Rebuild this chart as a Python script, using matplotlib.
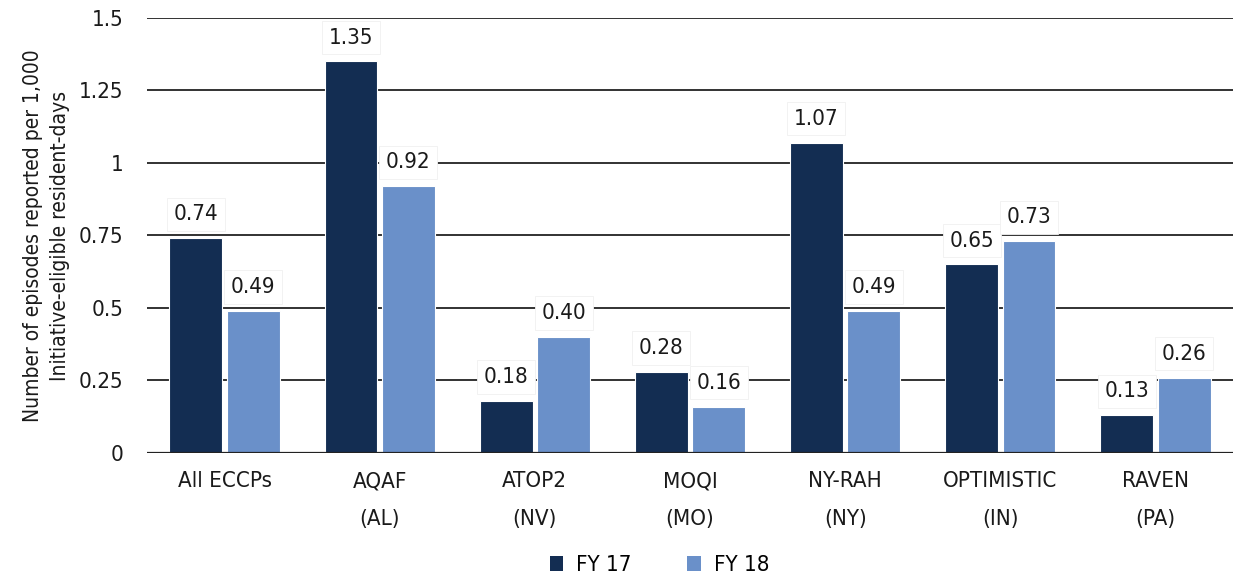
import matplotlib
matplotlib.use("Agg")
import matplotlib.pyplot as plt
import numpy as np
from matplotlib.patches import Patch

categories = ["All ECCPs", "AQAF\n(AL)", "ATOP2\n(NV)", "MOQI\n(MO)", "NY-RAH\n(NY)", "OPTIMISTIC\n(IN)", "RAVEN\n(PA)"]
fy17 = [0.74, 1.35, 0.18, 0.28, 1.07, 0.65, 0.13]
fy18 = [0.49, 0.92, 0.40, 0.16, 0.49, 0.73, 0.26]
series_names = ["FY 17", "FY 18"]
yticks = [0, 0.25, 0.5, 0.75, 1, 1.25, 1.5]
ytick_labels = ["0", "0.25", "0.5", "0.75", "1", "1.25", "1.5"]

plt.rcParams['font.family'] = ['DejaVu Sans']
plt.rcParams['font.stretch'] = 'condensed'

dark = "#132d52"
light = "#6a90c9"

fig = plt.figure(figsize=(12.33, 5.78), dpi=100)
ax = fig.add_axes([0.1192, 0.2163, 0.8808, 0.7526])

x = np.arange(len(categories))
w = 0.34
b1 = ax.bar(x - w/2 - 0.015, fy17, w, color=dark, edgecolor="white", linewidth=0.8, zorder=3)
b2 = ax.bar(x + w/2 + 0.015, fy18, w, color=light, edgecolor="white", linewidth=0.8, zorder=3)

for bars, vals in ((b1, fy17), (b2, fy18)):
    for r, v in zip(bars, vals):
        ax.annotate(f"{v:.2f}", (r.get_x() + r.get_width()/2, v), xytext=(0, 10),
                    textcoords="offset points", ha="center", va="bottom", fontsize=16,
                    color="#1a1a1a", zorder=5, fontstretch='condensed',
                    bbox=dict(boxstyle="square,pad=0.3", facecolor="white", edgecolor="#f0f0f0", linewidth=0.6))

ax.set_xlim(-0.5, len(categories) - 0.5)
ax.set_ylim(0, 1.5)
ax.set_yticks(yticks)
ax.set_yticklabels(ytick_labels)
ax.set_xticks(x)
ax.set_xticklabels(categories, linespacing=2.15)
ax.tick_params(axis="both", length=0, labelsize=16, colors="#1a1a1a")
ax.tick_params(axis="x", pad=13)
ax.tick_params(axis="y", pad=17)
ax.grid(axis="y", color="#222222", linewidth=1.3, zorder=0)
for s in ax.spines.values():
    s.set_visible(False)
ax.axhline(0, color="#222222", linewidth=1.6, zorder=4)

ax.set_ylabel("Number of episodes reported per 1,000\nInitiative-eligible resident-days", fontsize=15,
              color="#1a1a1a", linespacing=1.45, labelpad=6)

handles = [Patch(facecolor=dark, edgecolor="none"), Patch(facecolor=light, edgecolor="none")]
fig.legend(handles, series_names, loc="lower center", ncol=2, frameon=False, fontsize=16,
           bbox_to_anchor=(0.535, -0.03), handlelength=0.6, handleheight=0.6, columnspacing=2.5,
           handletextpad=0.6)

fig.savefig("out.png", dpi=100)
